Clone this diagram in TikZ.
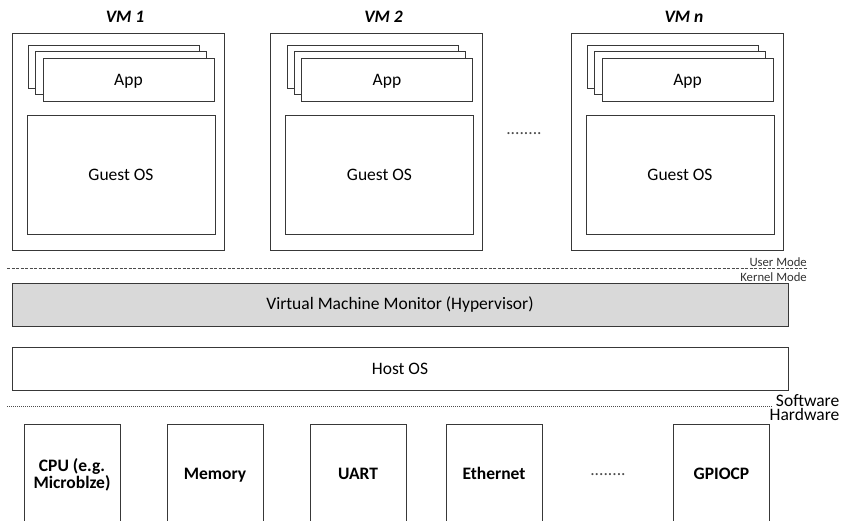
\documentclass[tikz,border=0pt]{standalone}
\usepackage{fontspec}
\setmainfont{Carlito}
\begin{document}
\begin{tikzpicture}[x=1pt,y=-1pt,
  edge/.style={draw=black!78, line width=0.8pt},
  rect/.style n args={2}{edge, fill=white, rectangle, inner sep=0pt, minimum width=#1pt, minimum height=#2pt},
  txt/.style={font=\fontsize{17.5}{21}\selectfont, inner sep=0pt},
  btxt/.style={font=\fontsize{17.5}{20}\selectfont\bfseries, inner sep=0pt, anchor=base},
  ttl/.style={font=\fontsize{17.5}{21}\selectfont\bfseries\itshape, inner sep=0pt},
  small/.style={font=\fontsize{12.7}{14}\selectfont, inner sep=0pt, text=black!80},
  dots/.style={font=\fontsize{17.5}{21}\selectfont, inner sep=0pt, anchor=base, text=black!70},
  sep/.style={draw=black!70, line width=0.6pt, dash pattern=on 3pt off 1.5pt},
  sepdot/.style={draw=black!70, line width=0.6pt, dash pattern=on 1pt off 1pt}]
\path[use as bounding box] (0,0) rectangle (842,520);
\clip (0,0) rectangle (842,520);

% Virtual machines
\foreach \i/\cx/\t in {1/118/VM 1, 2/376.5/VM 2, n/677/VM n}{
  \node[ttl] (title\i) at (\cx+7,17) {\t};
  \node[rect={212}{217}] (vm\i) at (\cx,141.5) {};
  \node[rect={171}{43}] (appc\i) at (\cx-4,66.5) {};
  \node[rect={171}{43}] (appb\i) at (\cx+3,73) {};
  \node[rect={171}{43}] (appf\i) at (\cx+10.5,79.5) {};
  \node[txt, anchor=base] (app\i) at (\cx+10.5,85) {App};
  \node[rect={188}{119}] (os\i) at (\cx+3,174.5) {};
  \node[txt, anchor=base] (ost\i) at (\cx+3,180.7) {Guest OS};
}
\node[dots] (vmdots) at (524,134) {........};

% User / kernel separator
\coordinate (ukL) at (7,268);
\coordinate (ukR) at (807,268);
\draw[sep] (ukL) -- (ukR);
\node[small, anchor=base east] (umode) at (807,266.5) {User Mode};
\node[small, anchor=base east] (kmode) at (807,281) {Kernel Mode};

% Hypervisor and host
\node[rect={776}{43}, fill=black!15, txt] (hyp) at (400,304.5) {Virtual Machine Monitor (Hypervisor)};
\node[rect={776}{43}, txt] (host) at (400,368.5) {Host OS};

% Software / hardware separator
\coordinate (shL) at (7,406);
\coordinate (shR) at (773,406);
\draw[sepdot] (shL) -- (shR);
\node[inner sep=0pt, align=right, font=\fontsize{17.5}{14}\selectfont, anchor=base east] (swhw) at (839.5,420) {Software\\Hardware};

% Hardware
\foreach \n/\cx in {cpu/72, mem/215, uart/358, eth/494, gpio/721.5}{
  \node[rect={96}{116}] (\n) at (\cx,482) {};
}
\node[btxt] (cpuL1) at (72,471.5) {CPU (e.g.};
\node[btxt] (cpuL2) at (72,488.5) {Microblze)};
\node[btxt] (memL) at (215,479) {Memory};
\node[btxt] (uartL) at (358,479) {UART};
\node[btxt] (ethL) at (494,479) {Ethernet};
\node[btxt] (gpioL) at (721.5,479) {GPIOCP};
\node[dots] (hwdots) at (608,475) {........};
\end{tikzpicture}
\end{document}
